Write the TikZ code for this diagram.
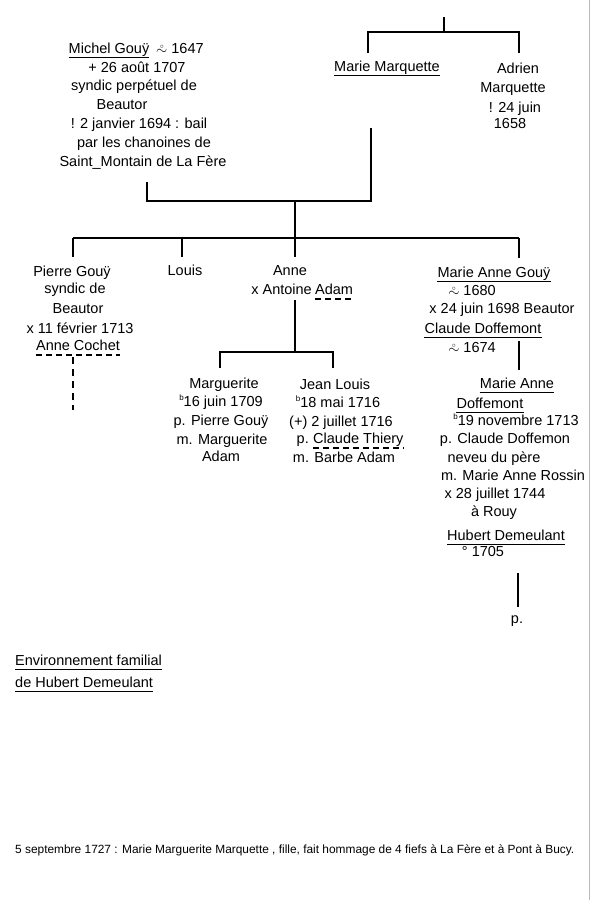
\documentclass[tikz,border=0pt]{standalone}
\usepackage{fontspec}
\setmainfont{Liberation Sans}
\newcommand\bapt{\mbox{\ooalign{\raisebox{-0.25ex}{$\sim$}\cr\hidewidth\raisebox{0.55ex}{$\scriptscriptstyle\circ$}\hidewidth\cr}}}
\newcommand\ulnode[1]{\draw[uln] ([yshift=-4.5pt]#1.base west) -- ([yshift=-4.5pt]#1.base east);}
\newcommand\dulnode[1]{\draw[duln] ([yshift=-5pt]#1.base west) -- ([yshift=-5pt]#1.base east);}
\newcommand\bsup{\raisebox{0.7ex}{\fontsize{8}{8}\selectfont b}}
\begin{document}
\begin{tikzpicture}[x=1pt,y=-1pt,
  txt/.style={anchor=base, inner sep=0pt, font=\fontsize{14.5}{16}\selectfont},
  small/.style={anchor=base west, inner sep=0pt, font=\fontsize{11.9}{13}\selectfont},
  link/.style={line width=1.3pt},
  uln/.style={line width=1.1pt},
  duln/.style={line width=1.1pt, dash pattern=on 6pt off 4pt},
  dlink/.style={line width=1.2pt, dash pattern=on 7pt off 5pt}]
\useasboundingbox (0,0) rectangle (592,900);
\fill[white] (0,0) rectangle (592,900);
\draw[gray!55, line width=1pt] (589.5,0) -- (589.5,900);

% ---- top generation
\coordinate (top) at (444,17);
\coordinate (tbar) at (444,32);
\coordinate (tL) at (368,32);
\coordinate (tR) at (519,32);
\coordinate (tLd) at (368,53);
\coordinate (tRd) at (519,53);
\draw[link] (top) -- (tbar);
\draw[link] (tLd) -- (tL) -- (tR) -- (tRd);

\node[txt] (mm) at (387,71) {Marie Marquette};
\ulnode{mm}
\node[txt] (am1) at (518,73) {Adrien};
\node[txt] (am2) at (513,92) {Marquette};
\node[txt] (am3) at (515,112) {! 24 juin};
\node[txt] (am4) at (510,128) {1658};

\node[txt] (mg1) at (109,53) {Michel Gouÿ};
\ulnode{mg1}
\node[txt, anchor=base west] (mg1b) at (156,53) {\bapt\ 1647};
\node[txt] (mg2) at (137,72) {+ 26 août 1707};
\node[txt] (mg3) at (134,90) {syndic perpétuel de};
\node[txt] (mg4) at (122,109) {Beautor};
\node[txt] (mg5) at (139,128) {! 2 janvier 1694 : bail};
\node[txt] (mg6) at (144,147) {par les chanoines de};
\node[txt] (mg7) at (143,166) {Saint\_Montain de La Fère};

% ---- couple to children
\coordinate (mgd) at (147,182);
\coordinate (mmd) at (371,128);
\coordinate (pbarR) at (371,201);
\coordinate (pmid) at (295,201);
\coordinate (cmid) at (295,238);
\draw[link] (mgd) |- (pbarR) -- (mmd);
\draw[link] (pmid) -- (cmid);

\coordinate (cL) at (73,238);
\coordinate (cLo) at (182,238);
\coordinate (cR) at (519,238);
\coordinate (pgd) at (73,257);
\coordinate (lod) at (182,257);
\coordinate (and) at (295,257);
\coordinate (magd) at (519,258);
\draw[link] (cL) -- (cR);
\draw[link] (cL) -- (pgd);
\draw[link] (cLo) -- (lod);
\draw[link] (cmid) -- (and);
\draw[link] (cR) -- (magd);

% ---- children
\node[txt] (pg1) at (72,276) {Pierre Gouÿ};
\node[txt] (pg2) at (75,293) {syndic de};
\node[txt] (pg3) at (78,313) {Beautor};
\node[txt] (pg4) at (80,333) {x 11 février 1713};
\node[txt] (pg5) at (78,350) {Anne Cochet};
\dulnode{pg5}
\coordinate (pgv1) at (73,357);
\coordinate (pgv2) at (73,410);
\draw[dlink] (pgv1) -- (pgv2);

\node[txt] (lo) at (185,275) {Louis};

\node[txt] (an1) at (290,275) {Anne};
\node[txt, anchor=base east] (an2) at (312,294) {x Antoine};
\node[txt, anchor=base west] (an3) at (315,294) {Adam};
\dulnode{an3}

\node[txt] (mag1) at (494,277) {Marie Anne Gouÿ};
\ulnode{mag1}
\node[txt] (mag2) at (472,295) {\bapt\ 1680};
\node[txt] (mag3) at (502,313) {x 24 juin 1698 Beautor};
\node[txt] (mag4) at (483,333) {Claude Doffemont};
\ulnode{mag4}
\node[txt] (mag5) at (472,352) {\bapt\ 1674};

% ---- Anne's children
\coordinate (ad1) at (295,300);
\coordinate (ad2) at (295,352);
\coordinate (gbL) at (220,352);
\coordinate (gbR) at (333,352);
\coordinate (mgtd) at (220,368);
\coordinate (jld) at (333,368);
\draw[link] (ad1) -- (ad2);
\draw[link] (mgtd) -- (gbL) -- (gbR) -- (jld);

\node[txt] (mt1) at (224,388) {Marguerite};
\node[txt] (mt2) at (221,406) {\bsup16 juin 1709};
\node[txt] (mt3) at (221,425) {p. Pierre Gouÿ};
\node[txt] (mt4) at (222,444) {m. Marguerite};
\node[txt] (mt5) at (221,461) {Adam};

\node[txt] (jl1) at (335,389) {Jean Louis};
\node[txt] (jl2) at (338,407) {\bsup18 mai 1716};
\node[txt] (jl3) at (341,426) {(+) 2 juillet 1716};
\node[txt, anchor=base east] (jl4) at (309,443) {p.};
\node[txt, anchor=base west] (jl4b) at (313,443) {Claude Thiery};
\dulnode{jl4b}
\node[txt] (jl5) at (344,462) {m. Barbe Adam};

% ---- Marie Anne Doffemont
\coordinate (mav1) at (519,341);
\coordinate (mav2) at (519,370);
\draw[link] (mav1) -- (mav2);

\node[txt] (md1) at (517,388) {Marie Anne};
\ulnode{md1}
\node[txt] (md2) at (490,408) {Doffemont};
\ulnode{md2}
\node[txt] (md3) at (516,425) {\bsup19 novembre 1713};
\node[txt] (md4) at (505,443) {p. Claude Doffemon};
\node[txt] (md5) at (494,462) {neveu du père};
\node[txt] (md6) at (513,480) {m. Marie Anne Rossin};
\node[txt] (md7) at (495,498) {x 28 juillet 1744};
\node[txt] (md8) at (494,516) {à Rouy};
\node[txt] (md9) at (506,540) {Hubert Demeulant};
\ulnode{md9}
\node[txt] (md10) at (483,556) {° 1705};

\coordinate (hv1) at (518,573);
\coordinate (hv2) at (518,607);
\draw[link] (hv1) -- (hv2);
\node[txt] (hp) at (517,623) {p.};

% ---- title and note
\node[txt, anchor=base west] (t1) at (15,665) {Environnement familial};
\ulnode{t1}
\node[txt, anchor=base west] (t2) at (15,687) {de Hubert Demeulant};
\ulnode{t2}

\node[small] (note) at (15,853) {5 septembre 1727 : Marie Marguerite Marquette , fille, fait hommage de 4 fiefs à La Fère et à Pont à Bucy.};
\end{tikzpicture}
\end{document}
